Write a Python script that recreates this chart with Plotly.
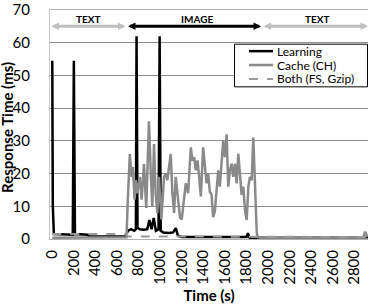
import plotly.graph_objects as go

# ---------------- data ----------------
learning_t = [0, 5, 15, 100, 190, 200, 210, 330, 340, 680, 700, 730, 760, 775, 781, 790,
              810, 850, 880, 900, 920, 940, 960, 985, 995, 1005, 1030, 1080, 1120, 1145,
              1165, 1200, 1500, 1800, 1813, 1825, 1850, 1900, 1910, 2926]
learning_v = [54.5, 10, 1.5, 1.3, 1.3, 54.5, 1.5, 1.3, 0.8, 0.8, 2.5, 3, 2.5, 3, 62, 3.5,
              3, 2.8, 3, 5.8, 3, 6.4, 2.5, 3, 62, 2.5, 2, 1.8, 2, 3.3,
              1, 0.6, 0.6, 0.6, 1.8, 0.5, 0.1, 0.1, 0.5, 0.5]

cache_t = [0, 200, 400, 600, 688, 700, 719, 735, 747, 763, 775, 788, 812, 828, 850, 871,
           896, 912, 927, 943, 958, 974, 989, 1011, 1036, 1051, 1067, 1082, 1098, 1113,
           1129, 1144, 1166, 1184, 1200, 1222, 1237, 1259, 1284, 1299, 1315, 1330, 1346,
           1361, 1377, 1398, 1414, 1430, 1445, 1460, 1476, 1491, 1507, 1523, 1538, 1553,
           1569, 1584, 1600, 1616, 1631, 1646, 1662, 1677, 1693, 1709, 1724, 1739, 1755,
           1770, 1786, 1802, 1817, 1832, 1848, 1863, 1879, 1895, 1904, 2200, 2500, 2880,
           2900, 2920]
cache_v = [0.4, 0.4, 0.4, 0.4, 0.5, 11.8, 26, 19, 22, 12, 18, 14, 19, 12, 23, 9.5,
           36, 21, 10, 29, 14, 8, 19, 6, 19, 20, 18, 22, 26, 14,
           8, 19, 12, 6.5, 6, 12, 17, 14, 28, 24, 25, 21, 24,
           19, 13, 28, 23, 17, 20, 14.5, 13.5, 6.7, 8.5, 14, 21, 16,
           23, 30, 25, 32, 16, 21, 23, 19, 23, 17, 26, 19, 13.5,
           16, 8.8, 5.8, 16, 19, 18, 31, 19, 2, 0.5, 0.5, 0.5, 0.5,
           2.2, 0.6]

both_t = [0, 330, 690, 700, 1200, 1900, 1910, 2926]
both_v = [1.5, 1.5, 1.5, 0.8, 0.8, 0.8, 0.6, 0.6]

x_ticks = list(range(0, 3000, 200))
y_ticks = list(range(0, 80, 10))

phase_names = ["TEXT", "IMAGE", "TEXT"]
phase_label_x = [335, 1340, 2456]
phase_start = [-21, 688, 1944]
phase_end = [679, 1935, 2926]
phase_colors = ["#bfbfbf", "#000000", "#bfbfbf"]

series_names = ["Learning", "Cache (CH)", "Both (FS, Gzip)"]
series_colors = ["#000000", "#8a8a8a", "#9a9a9a"]
series_widths = [2.5, 2.5, 2]
series_dash = ["solid", "solid", "dash"]

FONT = "Lato"

# plot-area geometry in pixels (for the hand-drawn legend box)
L, T, W, H = 50, 8, 318, 231
def px(x):
    return (x - L) / W
def py(y):
    return 1 - (y - T) / H

fig = go.Figure()
for t, v, n, c, w, d in zip([learning_t, cache_t, both_t], [learning_v, cache_v, both_v],
                            series_names, series_colors, series_widths, series_dash):
    fig.add_trace(go.Scatter(x=t, y=v, mode="lines", name=n, showlegend=False,
                             line=dict(color=c, width=w, dash=d)))

for name, lx, s, e, c in zip(phase_names, phase_label_x, phase_start, phase_end, phase_colors):
    fig.add_annotation(x=e, y=65, ax=s, ay=65, xref="x", yref="y", axref="x", ayref="y",
                       text="", showarrow=True, arrowhead=2, startarrowhead=2,
                       arrowside="end+start", arrowwidth=3, arrowsize=0.5,
                       startarrowsize=0.5, arrowcolor=c)
    fig.add_annotation(x=lx, y=67.4, xref="x", yref="y", text="<b>%s</b>" % name,
                       showarrow=False, font=dict(family=FONT, size=10, color="#000000"))

fig.add_annotation(x=px(7), y=py(127), xref="paper", yref="paper",
                   text="<b>Response Time (ms)</b>",
                   textangle=-90, showarrow=False, xanchor="center", yanchor="middle",
                   font=dict(family=FONT, size=15, color="#000000"))

# legend box drawn by hand
fig.add_shape(type="rect", xref="paper", yref="paper", x0=px(234.5), x1=px(367.5),
              y0=py(85.5), y1=py(42.5), line=dict(color="#000000", width=1),
              fillcolor="white", layer="above")
for i, (n, c, w, d) in enumerate(zip(series_names, series_colors, series_widths, series_dash)):
    yy = 49.5 + 14 * i
    fig.add_shape(type="line", xref="paper", yref="paper", x0=px(249), x1=px(273),
                  y0=py(yy), y1=py(yy), line=dict(color=c, width=w, dash=d), layer="above")
    fig.add_annotation(x=px(275), y=py(yy), xref="paper", yref="paper", text=n,
                       showarrow=False, xanchor="left", yanchor="middle",
                       font=dict(family=FONT, size=12, color="#000000"))

fig.update_layout(
    width=368, height=306,
    margin=dict(l=L, r=0, t=T, b=67),
    paper_bgcolor="white", plot_bgcolor="white",
    font=dict(family=FONT, size=15, color="#000000"),
    showlegend=False,
    xaxis=dict(range=[-21, 2926], tickmode="array", tickvals=x_ticks,
               ticktext=[str(v) for v in x_ticks], tickangle=-90,
               showgrid=False, zeroline=False, showline=True, mirror=True,
               linecolor="#b0b0b0", linewidth=1, ticks="", ticklabelstandoff=4,
               ticklabeloverflow="allow",
               title=dict(text="<b>Time (s)</b>", font=dict(family=FONT, size=15), standoff=6)),
    yaxis=dict(range=[0, 70.001], tickmode="array", tickvals=y_ticks,
               ticktext=[str(v) for v in y_ticks],
               showgrid=True, gridcolor="#8c8c8c", gridwidth=1, zeroline=False,
               showline=True, linecolor="#c8c8c8", linewidth=1, ticks="",
               ticklabelstandoff=16, ticklabeloverflow="allow"),
)

fig.write_html("out.html")
